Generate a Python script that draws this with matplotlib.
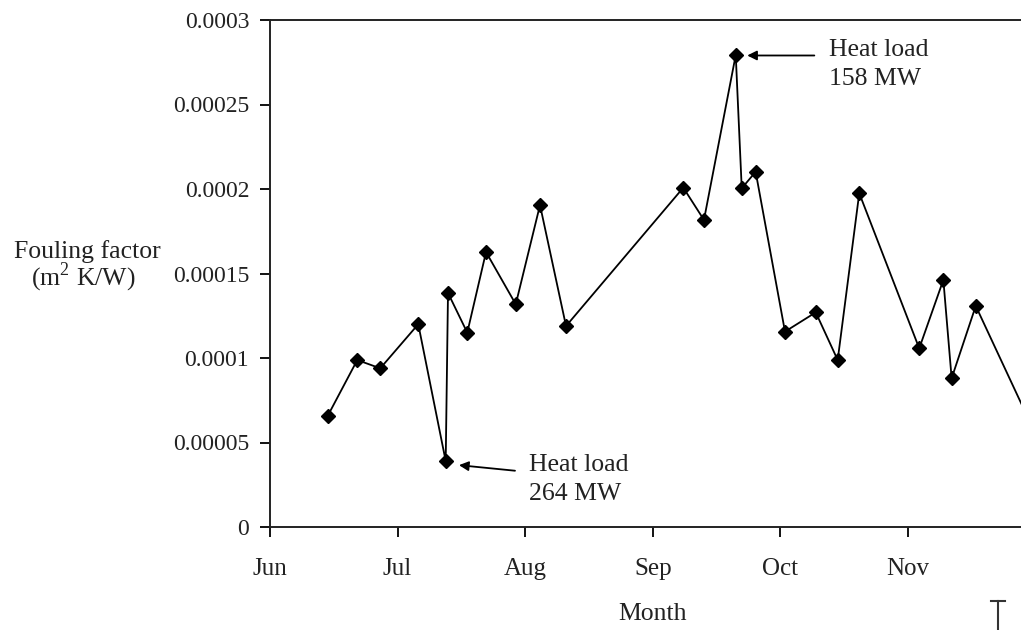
import matplotlib
matplotlib.use("Agg")
import matplotlib.pyplot as plt
from matplotlib.lines import Line2D

# ---- data (x = months after 1 June) ----
month_pos = [0.452, 0.684, 0.864, 1.162, 1.377, 1.395, 1.546, 1.693, 1.926,
             2.116, 2.320, 3.239, 3.401, 3.650, 3.697, 3.806, 4.036, 4.277,
             4.449, 4.618, 5.088, 5.277, 5.342, 5.531, 5.956]
fouling = [6.57e-5, 9.88e-5, 9.39e-5, 1.20e-4, 3.9e-5, 1.385e-4, 1.15e-4,
           1.627e-4, 1.318e-4, 1.905e-4, 1.189e-4, 2.008e-4, 1.817e-4,
           2.793e-4, 2.004e-4, 2.102e-4, 1.156e-4, 1.27e-4, 9.88e-5,
           1.975e-4, 1.057e-4, 1.462e-4, 8.8e-5, 1.308e-4, 6.2e-5]
month_labels = ["Jun", "Jul", "Aug", "Sep", "Oct", "Nov"]
month_ticks = [0, 1, 2, 3, 4, 5]
y_ticks = [0, 0.00005, 0.0001, 0.00015, 0.0002, 0.00025, 0.0003]
y_tick_labels = ["0", "0.00005", "0.0001", "0.00015", "0.0002", "0.00025", "0.0003"]

FONT = "Liberation Serif"
FS = 18.5      # labels and annotations
FS_X = 18      # month tick labels
FS_Y = 17      # numeric tick labels
TXT = "#222222"

fig = plt.figure(figsize=(10.21, 6.30), dpi=100)
W, H = 1021, 630
ax = fig.add_axes([270 / W, (630 - 527) / H, 765.6 / W, 507 / H])

ax.plot(month_pos, fouling, color="black", lw=1.3, marker="D", ms=7.5,
        markerfacecolor="black", markeredgecolor="black", clip_on=False)

ax.set_xlim(0, 6)
ax.set_ylim(0, 0.0003)
ax.set_xticks(month_ticks)
ax.set_xticklabels(month_labels, fontfamily=FONT, fontsize=FS_X)
ax.set_yticks(y_ticks)
ax.set_yticklabels(y_tick_labels, fontfamily=FONT, fontsize=FS_Y)
ax.tick_params(axis="both", direction="out", length=7, width=1.3, color="black",
               labelcolor=TXT)
ax.tick_params(axis="x", pad=15)
ax.tick_params(axis="y", pad=8)
for s in ["left", "bottom", "top"]:
    ax.spines[s].set_linewidth(1.4)
    ax.spines[s].set_color("#222222")
ax.spines["right"].set_visible(False)

ax.set_xlabel("Month", fontfamily=FONT, fontsize=FS, color=TXT, labelpad=17)

# y label placed as figure text
fig.text(87 / W, 1 - 252 / H, "Fouling factor", fontfamily=FONT, fontsize=FS,
         ha="center", va="center", color=TXT)
fig.text(83 / W, 1 - 277 / H, r"(m$^{\mathregular{2}}$ K/W)", fontfamily=FONT, fontsize=FS,
         ha="center", va="center", color=TXT)

# annotations
arrow = dict(arrowstyle="-|>", color="black", lw=1.3, mutation_scale=14,
             shrinkA=0, shrinkB=0)
ax.annotate("", xy=(1.481, 0.0000366), xytext=(1.920, 0.0000333),
            arrowprops=arrow)
ax.annotate("Heat load\n264 MW", xy=(2.032, 0.0000281), fontfamily=FONT,
            fontsize=FS, va="center", ha="left", linespacing=1.4, color=TXT)
ax.annotate("", xy=(3.740, 0.000279), xytext=(4.266, 0.000279),
            arrowprops=arrow)
ax.annotate("Heat load\n158 MW", xy=(4.381, 0.0002737),
            fontfamily=FONT, fontsize=FS, va="center", ha="left",
            linespacing=1.4, color=TXT)

# cursor artefact (I-beam) at bottom right
fig.add_artist(Line2D([998 / W, 998 / W], [1 - 601 / H, 0], color="#333333", lw=1.5))
fig.add_artist(Line2D([991 / W, 1005 / W], [1 - 601 / H, 1 - 601 / H], color="#333333", lw=1.5))

fig.savefig("out.png", dpi=100)
